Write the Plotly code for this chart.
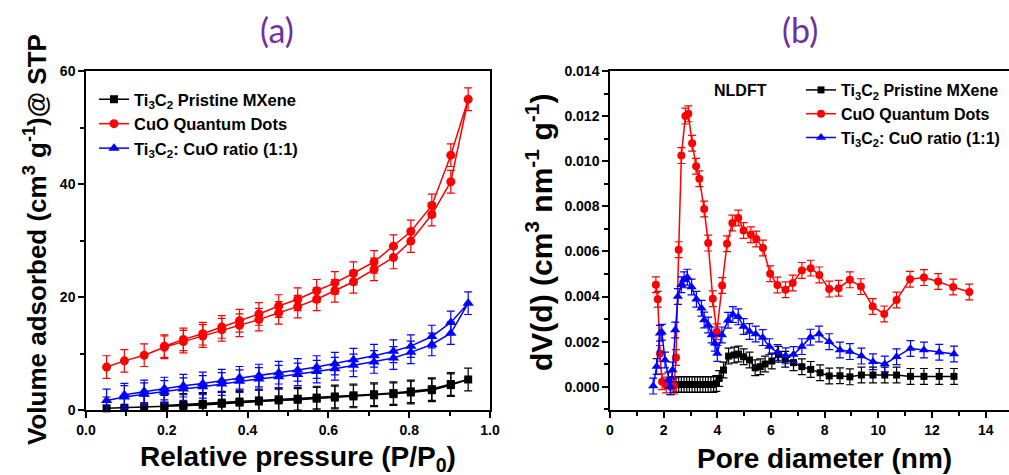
import plotly.graph_objects as go

# ---------------- (a) N2 adsorption/desorption isotherms ----------------
p_ads = [0.051, 0.095, 0.144, 0.194, 0.241, 0.289, 0.336, 0.380, 0.428, 0.477,
         0.524, 0.571, 0.616, 0.662, 0.713, 0.761, 0.804, 0.856, 0.903, 0.946]
p_des_cuo = [0.903, 0.856, 0.804, 0.761, 0.713, 0.662, 0.616, 0.571, 0.524,
             0.477, 0.428, 0.380, 0.336, 0.289, 0.241, 0.194]
p_des_ti = [0.903, 0.856, 0.804, 0.761, 0.713, 0.662, 0.616, 0.571, 0.524,
            0.477, 0.428, 0.380, 0.336, 0.289, 0.241, 0.194]
p_des_mix = [0.903, 0.856, 0.804, 0.761, 0.713, 0.662, 0.616, 0.571, 0.524,
             0.477, 0.428, 0.380, 0.336, 0.289, 0.241, 0.194, 0.144, 0.095]

ti_ads = [0.3, 0.4, 0.5, 0.6, 0.7, 0.9, 1.1, 1.3, 1.5, 1.7,
          1.8, 2.0, 2.2, 2.4, 2.6, 2.8, 3.1, 3.5, 4.4, 5.4]
ti_des = [4.6, 3.7, 3.3, 3.0, 2.8, 2.6, 2.4, 2.2, 2.0, 1.9, 1.7, 1.5, 1.3, 1.1, 0.9, 0.8]

cuo_ads = [7.6, 8.7, 9.7, 11.1, 12.1, 13.1, 14.2, 15.0, 16.0, 17.2,
           18.3, 19.6, 21.1, 22.7, 24.9, 27.0, 29.9, 34.6, 40.4, 55.0]
cuo_des = [45.1, 36.2, 31.6, 29.0, 26.2, 24.2, 22.5, 21.1, 19.6, 18.4,
           17.0, 15.8, 14.7, 13.5, 12.5, 11.3]

mix_ads = [1.7, 2.3, 2.8, 3.2, 3.7, 4.1, 4.6, 5.1, 5.5, 5.9,
           6.3, 6.8, 7.3, 7.9, 8.5, 9.2, 10.2, 11.6, 13.6, 18.9]
mix_des = [15.5, 13.0, 11.3, 10.4, 9.6, 8.9, 8.2, 7.6, 7.1, 6.6,
           6.1, 5.7, 5.2, 4.7, 4.3, 3.8, 3.3, 2.7]

iso_err = 2.0

# ---------------- (b) NLDFT pore size distribution ----------------
d_ti = [2.36, 2.46, 2.56, 2.66, 2.76, 2.86, 2.96, 3.06, 3.16, 3.26, 3.36, 3.46,
        3.56, 3.66, 3.76, 3.86, 3.96, 4.07, 4.23, 4.42, 4.63, 4.79, 4.98, 5.20,
        5.41, 5.60, 5.78, 6.03, 6.28, 6.53, 6.84, 7.15, 7.48, 7.83, 8.17, 8.57,
        8.94, 9.37, 9.80, 10.24, 10.68, 11.20, 11.70, 12.27, 12.82]
dv_ti = [0.0001, 0.0001, 0.0001, 0.0001, 0.0001, 0.0001, 0.0001, 0.0001, 0.0001,
         0.0001, 0.0001, 0.0001, 0.0001, 0.0001, 0.0001, 0.0001, 0.00015, 0.00037,
         0.00074, 0.00136, 0.00141, 0.00145, 0.00133, 0.00119, 0.00084, 0.00089,
         0.00101, 0.00114, 0.00144, 0.00122, 0.00107, 0.00089, 0.00077, 0.00062,
         0.00048, 0.00049, 0.00044, 0.00052, 0.00052, 0.00052, 0.00052, 0.00046,
         0.00046, 0.00046, 0.00046]

d_cuo = [1.71, 1.78, 1.86, 1.94, 2.09, 2.26, 2.39, 2.46, 2.56, 2.66, 2.81, 2.92,
         3.06, 3.21, 3.33, 3.51, 3.66, 3.83, 3.98, 4.18, 4.36, 4.56, 4.78, 4.98,
         5.25, 5.45, 5.70, 5.97, 6.24, 6.54, 6.81, 7.15, 7.48, 7.80, 8.17, 8.52,
         8.94, 9.35, 9.79, 10.22, 10.68, 11.18, 11.70, 12.23, 12.79, 13.39]
dv_cuo = [0.00452, 0.00388, 0.00148, 0.00022, 0.00008, 0.0, 0.00003, 0.0013,
          0.00608, 0.01025, 0.0120, 0.0121, 0.0108, 0.00978, 0.00922, 0.00788,
          0.00637, 0.0039, 0.00244, 0.00449, 0.00634, 0.00726, 0.00748, 0.00693,
          0.00674, 0.00655, 0.00615, 0.00501, 0.00451, 0.0043, 0.0046, 0.00516,
          0.00526, 0.00496, 0.00433, 0.00437, 0.00474, 0.00444, 0.00356, 0.00323,
          0.00385, 0.00477, 0.00484, 0.00467, 0.00442, 0.0042]

d_mix = [1.61, 1.74, 1.86, 1.93, 2.05, 2.18, 2.25, 2.33, 2.43, 2.53, 2.66, 2.76,
         2.88, 3.04, 3.22, 3.41, 3.51, 3.66, 3.79, 3.91, 4.00, 4.17, 4.40, 4.58,
         4.78, 4.98, 5.20, 5.43, 5.69, 5.94, 6.24, 6.55, 6.84, 7.15, 7.47, 7.79,
         8.17, 8.57, 8.94, 9.37, 9.80, 10.24, 10.68, 11.20, 11.70, 12.27, 12.82]
dv_mix = [0.00003, 0.0009, 0.00237, 0.00242, 0.00119, 0.0003, 0.0, 0.00074,
          0.00252, 0.0040, 0.00452, 0.00474, 0.00486, 0.00442, 0.00388, 0.00348,
          0.00296, 0.00274, 0.0023, 0.00193, 0.00148, 0.0023, 0.00295, 0.0032,
          0.0031, 0.00267, 0.00245, 0.00234, 0.00218, 0.00178, 0.00152, 0.00137,
          0.00143, 0.00178, 0.0022, 0.00234, 0.002, 0.00163, 0.00156, 0.00136,
          0.00111, 0.00101, 0.00133, 0.0017, 0.00163, 0.00153, 0.00145]

psd_err = 0.00035

names = ["Ti<sub>3</sub>C<sub>2</sub> Pristine MXene",
         "CuO Quantum Dots",
         "Ti<sub>3</sub>C<sub>2</sub>: CuO ratio (1:1)"]
colors = ["#000000", "#ff0000", "#0000ff"]
symbols = ["square", "circle", "triangle-up"]

W, H = 1009, 475
FONT = "Liberation Sans, Arial, sans-serif"


def px_x(v):
    return v / W


def px_y(v):
    return 1 - v / H


fig = go.Figure()

iso_sets = [(p_ads, ti_ads, p_des_ti, ti_des),
            (p_ads, cuo_ads, p_des_cuo, cuo_des),
            (p_ads, mix_ads, p_des_mix, mix_des)]
iso_sizes = [8, 9, 10]
for i, (xa, ya, xd, yd) in enumerate(iso_sets):
    xs = xa + xd
    ys = ya + yd
    fig.add_trace(go.Scatter(
        x=xs, y=ys, mode="lines+markers", name=names[i],
        line=dict(color=colors[i], width=1.5),
        marker=dict(symbol=symbols[i], size=iso_sizes[i], color=colors[i]),
        error_y=dict(type="constant", value=iso_err, color=colors[i],
                     thickness=1.2, width=4),
        xaxis="x", yaxis="y", legend="legend", cliponaxis=False,
    ))

psd_sets = [(d_ti, dv_ti), (d_cuo, dv_cuo), (d_mix, dv_mix)]
psd_sizes = [7, 8, 9]
for i, (xs, ys) in enumerate(psd_sets):
    fig.add_trace(go.Scatter(
        x=xs, y=ys, mode="lines+markers", name=names[i],
        line=dict(color=colors[i], width=1.5),
        marker=dict(symbol=symbols[i], size=psd_sizes[i], color=colors[i]),
        error_y=dict(type="constant", value=psd_err, color=colors[i],
                     thickness=1.2, width=4),
        xaxis="x2", yaxis="y2", legend="legend2", cliponaxis=False,
    ))

tickfont = dict(family=FONT, size=14, color="black", weight="bold")
axis_common = dict(
    showline=True, linecolor="black", linewidth=1.5,
    ticks="outside", ticklen=6, tickwidth=1.5, tickcolor="black",
    showgrid=False, zeroline=False, tickfont=tickfont,
)
minor_common = dict(ticks="outside", ticklen=4, tickwidth=1.5, tickcolor="black",
                    showgrid=False)

x_r = 14.87  # right panel runs to the page edge

fig.update_layout(
    width=W, height=H,
    margin=dict(l=0, r=0, t=0, b=0, autoexpand=False),
    paper_bgcolor="white", plot_bgcolor="white",
    xaxis=dict(domain=[px_x(86), px_x(490)], range=[0, 1.0], dtick=0.2,
               tick0=0, tickformat=".1f", mirror=True, anchor="y",
               minor=dict(dtick=0.1, **minor_common), **axis_common),
    yaxis=dict(domain=[px_y(410), px_y(71)], range=[0, 60], dtick=20,
               tick0=0, mirror=True, anchor="x",
               minor=dict(dtick=10, **minor_common), **axis_common),
    xaxis2=dict(domain=[px_x(610), 1.0], range=[0, x_r], dtick=2, tick0=0,
                mirror=True, anchor="y2",
                minor=dict(dtick=1, **minor_common), **axis_common),
    yaxis2=dict(domain=[px_y(410), px_y(71)], range=[-0.00103, 0.014],
                dtick=0.002, tick0=0, tickformat=".3f", mirror=False,
                anchor="x2", minor=dict(dtick=0.001, **minor_common),
                **axis_common),
    legend=dict(x=px_x(94), y=px_y(82), xanchor="left", yanchor="top",
                bgcolor="rgba(0,0,0,0)", borderwidth=0,
                font=dict(family=FONT, size=16.5, color="black", weight="bold"),
                tracegroupgap=0),
    legend2=dict(x=px_x(801), y=px_y(73), xanchor="left", yanchor="top",
                 bgcolor="rgba(0,0,0,0)", borderwidth=0,
                 font=dict(family=FONT, size=16, color="black", weight="bold"),
                 tracegroupgap=1),
    showlegend=True,
)

title_font = dict(family="Lato, Open Sans, sans-serif", size=34, color="#7030a0")
label_font = dict(family=FONT, size=28, color="black", weight="bold")

annotations = [
    dict(text="(a)", x=px_x(277), y=px_y(30), font=title_font),
    dict(text="(b)", x=px_x(800), y=px_y(30), font=title_font),
    dict(text="Relative pressure (P/P<sub>0</sub>)", x=px_x(298), y=px_y(458),
         font=label_font),
    dict(text="Pore diameter (nm)", x=px_x(824), y=px_y(458), font=label_font),
    dict(text="Volume adsorbed (cm<sup>3</sup> g<sup>-1</sup>)@ STP",
         x=px_x(35), y=px_y(240), textangle=-90,
         font=dict(family=FONT, size=26, color="black", weight="bold")),
    dict(text="dV(d) (cm<sup>3</sup> nm<sup>-1</sup> g<sup>-1</sup>)",
         x=px_x(539), y=px_y(233), textangle=-90,
         font=dict(family=FONT, size=30, color="black", weight="bold")),
    dict(text="NLDFT", x=px_x(740), y=px_y(90),
         font=dict(family=FONT, size=16, color="black", weight="bold")),
]
for a in annotations:
    a.update(xref="paper", yref="paper", showarrow=False,
             xanchor="center", yanchor="middle")
fig.update_layout(annotations=annotations)

fig.write_html("out.html")
